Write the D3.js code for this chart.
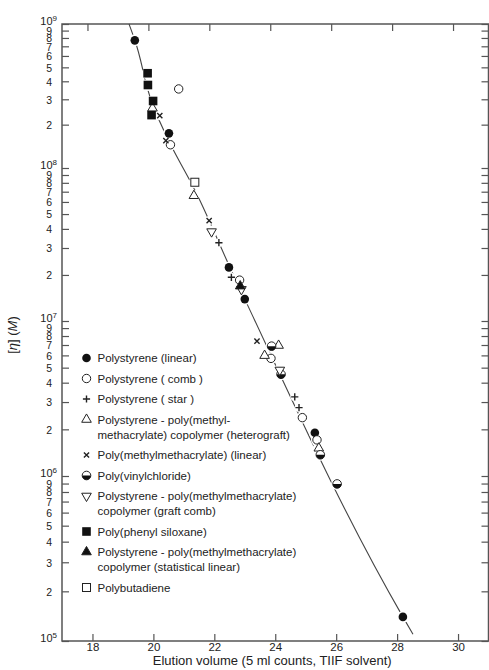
<!DOCTYPE html>
<html>
<head>
<meta charset="utf-8">
<script src="https://cdn.jsdelivr.net/npm/d3@7"></script>
<style>
body { margin: 0; background: #fff; }
</style>
</head>
<body>
<div id="chart"></div>
<script>
// Values: elution volume (5 ml counts) and [eta]M
const psLinearV = [19.39, 20.51, 22.48, 23.0, 25.30, 28.19];
const psLinearM = [7.7e8, 1.74e8, 2.24e7, 1.39e7, 1.9e6, 1.4e5];

const psCombV = [20.83, 20.56, 22.83, 23.86, 24.89, 25.37];
const psCombM = [3.54e8, 1.45e8, 1.85e7, 5.74e6, 2.38e6, 1.71e6];

const psStarV = [22.15, 22.56, 24.64, 24.78];
const psStarM = [3.25e7, 1.93e7, 3.24e6, 2.76e6];

const heteroV = [19.97, 21.33, 24.11, 23.65, 25.43];
const heteroM = [2.6e8, 6.59e7, 6.95e6, 5.98e6, 1.51e6];

const pmmaV = [20.21, 20.41, 21.83, 23.40];
const pmmaM = [2.31e8, 1.55e8, 4.53e7, 7.41e6];

const pvcV = [23.88, 24.19, 25.48, 26.03];
const pvcM = [6.88e6, 4.53e6, 1.37e6, 8.95e5];

const graftCombV = [21.91, 22.89, 24.15];
const graftCombM = [3.84e7, 1.61e7, 4.83e6];

const siloxaneV = [19.81, 19.82, 19.99, 19.94];
const siloxaneM = [4.55e8, 3.77e8, 2.92e8, 2.33e8];

const statLinearV = [22.85];
const statLinearM = [1.69e7];

const butadieneV = [21.36];
const butadieneM = [8.07e7];

// Calibration curve drawn through the points
const fitV = [19.20, 19.39, 19.98, 20.54, 21.36, 22.51, 23.0, 28.19, 28.52];
const fitM = [1e9, 7.74e8, 2.74e8, 1.49e8, 7.18e7, 2.25e7, 1.39e7, 1.40e5, 1.10e5];

const xTicks = [18, 20, 22, 24, 26, 28, 30];
const yDecades = [1e5, 1e6, 1e7, 1e8, 1e9];
const yMinorDigits = [2, 3, 4, 5, 6, 7, 8, 9];

const legendLabels = [
    ["Polystyrene (linear)"],
    ["Polystyrene ( comb )"],
    ["Polystyrene ( star )"],
    ["Polystyrene - poly(methyl-", "methacrylate) copolymer (heterograft)"],
    ["Poly(methylmethacrylate) (linear)"],
    ["Poly(vinylchloride)"],
    ["Polystyrene - poly(methylmethacrylate)", "copolymer (graft comb)"],
    ["Poly(phenyl siloxane)"],
    ["Polystyrene - poly(methylmethacrylate)", "copolymer (statistical linear)"],
    ["Polybutadiene"]
];
const markerTypes = ["filledCircle", "openCircle", "plus", "triangle", "x",
    "halfCircle", "downTriangle", "filledSquare", "filledTriangle", "openSquare"];

const seriesV = [psLinearV, psCombV, psStarV, heteroV, pmmaV, pvcV, graftCombV, siloxaneV, statLinearV, butadieneV];
const seriesM = [psLinearM, psCombM, psStarM, heteroM, pmmaM, pvcM, graftCombM, siloxaneM, statLinearM, butadieneM];

const font = "'Liberation Sans', Arial, sans-serif";
const ink = "#222";
const axisColor = "#555";

const margin = {top: 24, right: 0, bottom: 29, left: 62};
const width = 426.5;
const height = 617;

const svg = d3.select("#chart")
    .append("svg")
        .attr("width", 489)
        .attr("height", 670)
    .append("g")
        .attr("transform", `translate(${margin.left},${margin.top})`);

const x = d3.scaleLinear().domain([17, 31]).range([0, width]);
// top ticks sit a few px left of the bottom ones in the scan
const xTop = d3.scaleLinear().domain([17, 31]).range([-5, width - 5]);
// decades are not evenly spaced in the printed figure
const y = d3.scaleLog()
    .domain(yDecades)
    .range([617, 452, 297, 144, 0]);

const yTickValues = [];
yDecades.forEach((d, i) => {
    yTickValues.push(d);
    if (i < yDecades.length - 1) yMinorDigits.forEach(m => yTickValues.push(d * m));
});

function styleAxis(g) {
    g.select(".domain").remove();
    g.selectAll(".tick line").attr("stroke", axisColor).attr("stroke-width", 1.2);
    g.selectAll(".tick text").attr("font-family", font).attr("fill", ink);
}

// Bottom axis
svg.append("g")
    .attr("transform", `translate(0,${height})`)
    .call(d3.axisBottom(x).tickValues(xTicks).tickSize(-7).tickSizeOuter(0).tickPadding(2))
    .call(styleAxis)
    .selectAll(".tick text").style("font-size", "11.5px");

// Top axis
svg.append("g")
    .call(d3.axisTop(xTop).tickValues(xTicks).tickSize(-7).tickSizeOuter(0).tickFormat(""))
    .call(styleAxis);

// Left axis
const yAxisG = svg.append("g")
    .call(d3.axisLeft(y).tickValues(yTickValues).tickSize(-7).tickSizeOuter(0).tickFormat(""))
    .call(styleAxis);

yAxisG.selectAll(".tick").each(function(d) {
    const t = d3.select(this).append("text")
        .attr("font-family", font)
        .attr("fill", ink)
        .attr("text-anchor", "end");
    const e = Math.round(Math.log10(d));
    if (Math.abs(d - Math.pow(10, e)) < 1e-6 * d) {
        // decade label sits slightly above its tick
        t.attr("x", -5).attr("dy", "0.05em").style("font-size", "11px");
        t.append("tspan").text("10");
        t.append("tspan").attr("dy", "-0.5em").style("font-size", "8px").text(e);
    } else {
        t.attr("x", -10).attr("dy", "0.36em").style("font-size", "10.5px")
            .text(Math.round(d / Math.pow(10, Math.floor(Math.log10(d)))));
    }
});

// Right axis
svg.append("g")
    .attr("transform", `translate(${width},0)`)
    .call(d3.axisRight(y).tickValues(yTickValues).tickSize(-7).tickSizeOuter(0).tickFormat(""))
    .call(styleAxis);

// Frame
svg.append("rect")
    .attr("width", width)
    .attr("height", height)
    .attr("fill", "none")
    .attr("stroke", axisColor)
    .attr("stroke-width", 1.5);

// Calibration line
const fitData = fitV.map((v, i) => ({v: v, m: fitM[i]}));
svg.append("path")
    .datum(fitData)
    .attr("fill", "none")
    .attr("stroke", "#444")
    .attr("stroke-width", 1.1)
    .attr("d", d3.line().x(d => x(d.v)).y(d => y(d.m)).curve(d3.curveMonotoneY));

function drawMarker(g, type) {
    // Append one marker shape centred at 0,0
    if (type === "filledCircle") {
        g.append("circle").attr("r", 4.3).attr("fill", "#111");
    } else if (type === "openCircle") {
        g.append("circle").attr("r", 4.2).attr("fill", "#fff").attr("stroke", ink).attr("stroke-width", 1);
    } else if (type === "plus") {
        g.append("path").attr("d", "M-3.6,0H3.6M0,-3.6V3.6").attr("stroke", ink).attr("stroke-width", 1.4);
    } else if (type === "x") {
        g.append("path").attr("d", "M-2.6,-2.6L2.6,2.6M2.6,-2.6L-2.6,2.6").attr("stroke", ink).attr("stroke-width", 1.4);
    } else if (type === "triangle" || type === "downTriangle" || type === "filledTriangle") {
        g.append("path")
            .attr("d", d3.symbol().type(d3.symbolTriangle).size(40)())
            .attr("transform", type === "downTriangle" ? "rotate(180)" : null)
            .attr("fill", type === "filledTriangle" ? "#111" : "#fff")
            .attr("stroke", ink)
            .attr("stroke-width", 1);
    } else if (type === "halfCircle") {
        g.append("circle").attr("r", 4.3).attr("fill", "#fff").attr("stroke", ink).attr("stroke-width", 1);
        g.append("path").attr("d", "M-4.3,0A4.3,4.3 0 0 0 4.3,0Z").attr("fill", "#111");
    } else if (type === "filledSquare") {
        g.append("rect").attr("x", -4.3).attr("y", -4.3).attr("width", 8.6).attr("height", 8.6).attr("fill", "#111");
    } else if (type === "openSquare") {
        g.append("rect").attr("x", -4).attr("y", -4).attr("width", 8).attr("height", 8)
            .attr("fill", "#fff").attr("stroke", ink).attr("stroke-width", 1);
    }
}

// Points (white halos first, so the line breaks around the markers)
const points = [];
seriesV.forEach((vs, s) => vs.forEach((v, i) => points.push({v: v, m: seriesM[s][i], type: markerTypes[s]})));

svg.append("g")
    .selectAll("circle")
    .data(points)
    .enter()
    .append("circle")
    .attr("cx", d => x(d.v))
    .attr("cy", d => y(d.m))
    .attr("r", d => (d.type === "plus" || d.type === "x") ? 4.5 : 6)
    .attr("fill", "#fff");

svg.append("g")
    .selectAll("g")
    .data(points)
    .enter()
    .append("g")
    .attr("transform", d => `translate(${x(d.v)},${y(d.m)})`)
    .each(function(d) { drawMarker(d3.select(this), d.type); });

// Legend
const legend = svg.append("g").attr("transform", "translate(0,334)");
let ly = 0;
legendLabels.forEach((lines, i) => {
    drawMarker(legend.append("g").attr("transform", `translate(24.5,${ly})`), markerTypes[i]);
    lines.forEach((line, j) => {
        legend.append("text")
            .attr("font-family", font)
            .style("font-size", "11.5px")
            .attr("fill", ink)
            .attr("x", 35.5)
            .attr("y", ly + j * 15)
            .attr("dy", "0.35em")
            .text(line);
    });
    ly += 20.5 + 15 * (lines.length - 1);
});

// Axis titles
svg.append("text")
    .attr("font-family", font)
    .style("font-size", "13px")
    .attr("fill", ink)
    .attr("text-anchor", "middle")
    .attr("x", x(23.9))
    .attr("y", height + 24)
    .text("Elution volume (5 ml counts, TIIF solvent)");

const yTitle = svg.append("text")
    .attr("font-family", font)
    .style("font-size", "13px")
    .attr("fill", ink)
    .attr("text-anchor", "middle")
    .attr("transform", `translate(-45,311) rotate(-90)`);
yTitle.append("tspan").text("[");
yTitle.append("tspan").style("font-style", "italic").text("η");
yTitle.append("tspan").text("] (");
yTitle.append("tspan").style("font-style", "italic").text("M");
yTitle.append("tspan").text(")");
</script>
</body>
</html>
